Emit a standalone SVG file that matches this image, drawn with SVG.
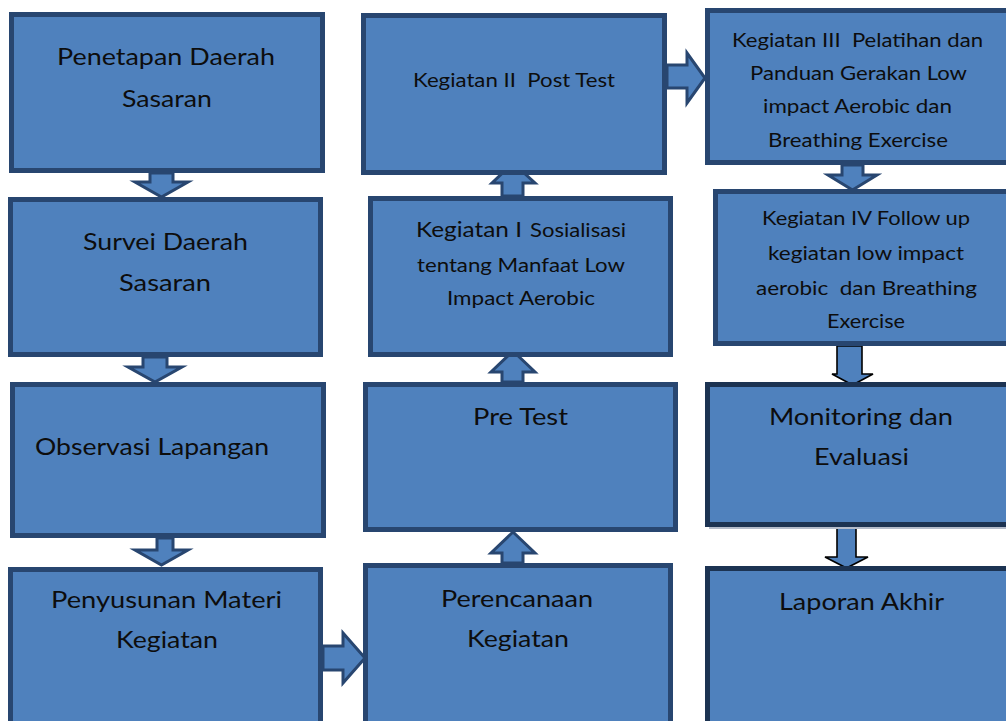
<svg xmlns="http://www.w3.org/2000/svg" width="1006" height="721" viewBox="0 0 1006 721">
<style>
.box{fill:#4f81bd;stroke:#284670;stroke-width:5}
.box2{fill:#4f81bd;stroke:#1c3352;stroke-width:5}
.shadow{fill:#b4bccb}
.arr{fill:#4f81bd;stroke:#284670;stroke-width:3;stroke-linejoin:miter}
.arrk{fill:#4f81bd;stroke:#000;stroke-width:1.6;stroke-linejoin:miter}
text{font-family:Lato,"Open Sans","Liberation Sans",sans-serif;fill:#0d0d0d}
.t1{font-size:23.5px}
.t2{font-size:21px}
.t3{font-size:19.5px}
</style>
<defs>
<clipPath id="c3"><rect x="707" y="10" width="300" height="150"/></clipPath>
</defs>
<rect width="1006" height="721" fill="#fff"/>
<g id="connectors">
<polygon class="arr" points="150,173 173,173 173,182 188,182 161.5,197 135,182 150,182"/>
<polygon class="arr" points="143,357 167,357 167,367 182,367 155,382 128,367 143,367"/>
<polygon class="arr" points="157,538 173,538 173,550 188,550 161.5,565 135,550 157,550"/>
<polygon class="arr" points="323,646 343,646 343,633 365,658 343,683 343,670 323,670"/>
<polygon class="arr" points="502,563 523,563 523,553 535,553 513,532 491,553 502,553"/>
<polygon class="arr" points="502,382 523,382 523,372 535,372 513,351 491,372 502,372"/>
<polygon class="arr" points="502,196 523,196 523,183 535,183 513,163 492,183 502,183"/>
<polygon class="arr" points="667,65 687,65 687,53 705,78 687,103 687,88 667,88"/>
<polygon class="arr" points="842,165 863,165 863,175 877,175 852.5,190 828,175 842,175"/>
<polygon class="arrk" points="837,346 862,346 862,374 873,374 852.5,385 832,374 837,374"/>
<polygon class="arrk" points="837,527 856,527 856,557 868,557 846.5,568 825,557 837,557"/>
</g>
<g id="n1"><rect class="box" x="11.5" y="14.5" width="311" height="156"/>
<text class="t1" x="57" y="65" textLength="218" lengthAdjust="spacingAndGlyphs">Penetapan Daerah</text>
<text class="t1" x="122" y="107" textLength="90" lengthAdjust="spacingAndGlyphs">Sasaran</text></g>
<g id="n2"><rect class="box" x="10.5" y="199.5" width="310" height="155"/>
<text class="t1" x="83" y="250" textLength="165" lengthAdjust="spacingAndGlyphs">Survei Daerah</text>
<text class="t1" x="119" y="291" textLength="92" lengthAdjust="spacingAndGlyphs">Sasaran</text></g>
<g id="n3"><rect class="box" x="12.5" y="384.5" width="311" height="151"/>
<text class="t1" x="35" y="455" textLength="234" lengthAdjust="spacingAndGlyphs">Observasi Lapangan</text></g>
<g id="n4"><rect class="box" x="10.5" y="569.5" width="310" height="155"/>
<text class="t1" x="51" y="608" textLength="231" lengthAdjust="spacingAndGlyphs">Penyusunan Materi</text>
<text class="t1" x="116" y="648" textLength="102" lengthAdjust="spacingAndGlyphs">Kegiatan</text></g>
<g id="n5"><rect class="box" x="365.5" y="565.5" width="305" height="160"/>
<text class="t1" x="441" y="607" textLength="152" lengthAdjust="spacingAndGlyphs">Perencanaan</text>
<text class="t1" x="467" y="647" textLength="102" lengthAdjust="spacingAndGlyphs">Kegiatan</text></g>
<g id="n6"><rect class="box" x="365.5" y="384.5" width="310" height="145"/>
<text class="t1" x="473" y="425" textLength="95" lengthAdjust="spacingAndGlyphs">Pre Test</text></g>
<g id="n7"><rect class="box" x="370.5" y="198.5" width="300" height="156"/>
<text class="t2" x="416" y="237" textLength="106" lengthAdjust="spacingAndGlyphs">Kegiatan I</text>
<text class="t3" x="530" y="237" textLength="96" lengthAdjust="spacingAndGlyphs">Sosialisasi</text>
<text class="t3" x="417" y="272" textLength="208" lengthAdjust="spacingAndGlyphs">tentang Manfaat Low</text>
<text class="t3" x="447" y="305" textLength="148" lengthAdjust="spacingAndGlyphs">Impact Aerobic</text></g>
<g id="n8"><rect class="box" x="363.5" y="15.5" width="301" height="157"/>
<text class="t3" x="413" y="87" textLength="202" lengthAdjust="spacingAndGlyphs" xml:space="preserve">Kegiatan II  Post Test</text></g>
<g id="n9"><rect class="box" x="707.5" y="10.5" width="310" height="152"/>
<g clip-path="url(#c3)">
<text class="t3" x="732" y="47" textLength="251" lengthAdjust="spacingAndGlyphs" xml:space="preserve">Kegiatan III  Pelatihan dan</text>
<text class="t3" x="750" y="80" textLength="217" lengthAdjust="spacingAndGlyphs">Panduan Gerakan Low</text>
<text class="t3" x="763" y="113" textLength="189" lengthAdjust="spacingAndGlyphs">impact Aerobic dan</text>
<text class="t3" x="768" y="147" textLength="180" lengthAdjust="spacingAndGlyphs">Breathing Exercise</text></g></g>
<g id="n10"><rect class="box" x="715.5" y="191.5" width="300" height="152"/>
<text class="t3" x="762" y="225" textLength="208" lengthAdjust="spacingAndGlyphs">Kegiatan IV Follow up</text>
<text class="t3" x="768" y="260" textLength="196" lengthAdjust="spacingAndGlyphs">kegiatan low impact</text>
<text class="t3" x="756" y="295" textLength="221" lengthAdjust="spacingAndGlyphs" xml:space="preserve">aerobic  dan Breathing</text>
<text class="t3" x="827" y="328" textLength="78" lengthAdjust="spacingAndGlyphs">Exercise</text></g>
<g id="n11"><rect class="shadow" x="709" y="387" width="310" height="142"/>
<rect class="box2" x="707.5" y="384.5" width="310" height="140"/>
<text class="t1" x="769" y="425" textLength="184" lengthAdjust="spacingAndGlyphs">Monitoring dan</text>
<text class="t1" x="814" y="465" textLength="95" lengthAdjust="spacingAndGlyphs">Evaluasi</text></g>
<g id="n12"><rect class="box2" x="707.5" y="568.5" width="310" height="160"/>
<text class="t1" x="779" y="610" textLength="165" lengthAdjust="spacingAndGlyphs">Laporan Akhir</text></g>
</svg>
